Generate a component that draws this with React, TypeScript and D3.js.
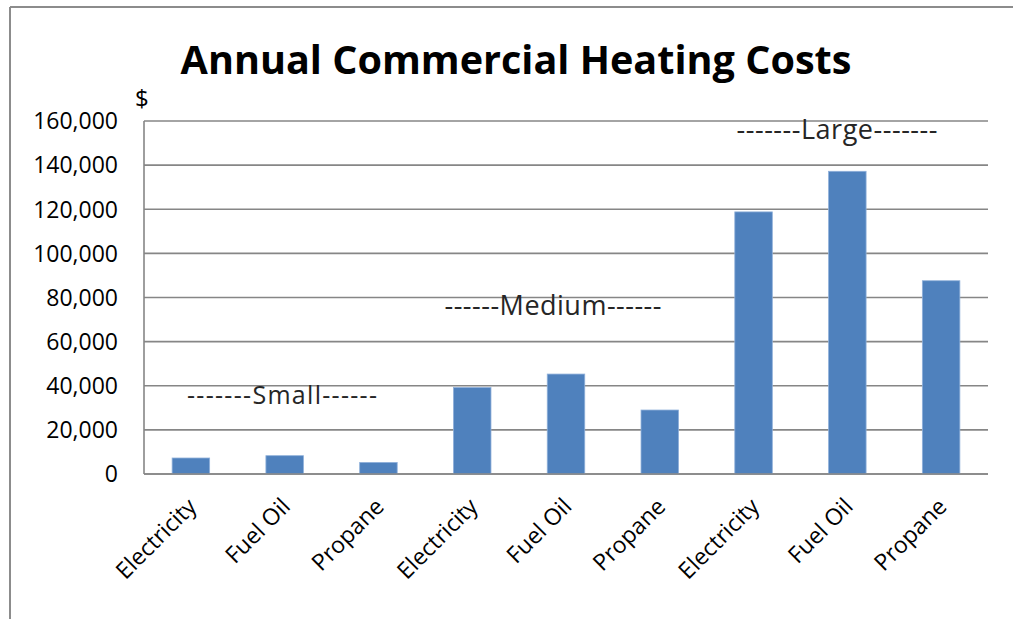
import React from "react";
import * as d3 from "d3";

const categories = ["Electricity", "Fuel Oil", "Propane", "Electricity", "Fuel Oil", "Propane", "Electricity", "Fuel Oil", "Propane"];
const costs = [7250, 8300, 5250, 39200, 45300, 29000, 118800, 137200, 87600];
const yTicks = [0, 20000, 40000, 60000, 80000, 100000, 120000, 140000, 160000];
const groupLabels = ["-------Small------", "------Medium------", "-------Large-------"];
const groupLabelAt = [
  { x: 282, y: 404, size: 25, len: 190 },
  { x: 553, y: 315, size: 27, len: 217 },
  { x: 837, y: 139, size: 27, len: 201 },
];
const title = "Annual Commercial Heating Costs";
const unitLabel = "$";

const W = 1013;
const H = 619;
const plot = { left: 144, right: 988, top: 121, bottom: 474 };
const FONT = "'Open Sans', 'Noto Sans', sans-serif";

export default function App() {
  const x = d3
    .scaleBand<number>()
    .domain(d3.range(categories.length))
    .range([plot.left, plot.right])
    .paddingInner(0.6)
    .paddingOuter(0.3);
  const y = d3.scaleLinear().domain([0, 160000]).range([plot.bottom, plot.top]);
  const fmt = d3.format(",");

  return (
    <svg width={W} height={H} style={{ position: "absolute", left: 0, top: 0, background: "#fff" }} fontFamily={FONT}>
      <rect x={0} y={0} width={W} height={H} fill="#fff" />
      {/* frame */}
      <line x1={10} y1={7} x2={W} y2={7} stroke="#8c8c8c" strokeWidth={2} />
      <line x1={10} y1={7} x2={10} y2={H} stroke="#8c8c8c" strokeWidth={2} />

      <text x={516} y={74} textAnchor="middle" fontSize={39.6} fontWeight="bold" fill="#000">
        {title}
      </text>

      {/* gridlines */}
      {yTicks.map((t) => (
        <line key={t} x1={plot.left} x2={plot.right} y1={y(t)} y2={y(t)} stroke="#868686" strokeWidth={1.6} />
      ))}
      <line x1={plot.left} x2={plot.left} y1={plot.top} y2={plot.bottom} stroke="#868686" strokeWidth={1.6} />

      {/* y tick labels */}
      {yTicks.map((t) => (
        <text key={"l" + t} x={118} y={y(t)} dy="0.36em" textAnchor="end" fontSize={23} fill="#000">
          {fmt(t)}
        </text>
      ))}
      <text x={135} y={107} fontSize={24} fill="#000">{unitLabel}</text>

      {/* bars */}
      {costs.map((v, i) => (
        <rect
          key={i}
          x={x(i)!}
          y={y(v)}
          width={x.bandwidth()}
          height={y(0) - y(v)}
          fill="#4F81BD"
          stroke="#8FB0DA"
          strokeWidth={0.8}
        />
      ))}
      <line x1={plot.left} x2={plot.right} y1={y(0)} y2={y(0)} stroke="#868686" strokeWidth={1.6} />

      {/* category labels */}
      {categories.map((c, i) => {
        const cx = x(i)! + x.bandwidth() / 2;
        return (
          <text
            key={"c" + i}
            transform={`translate(${cx + 7},${508}) rotate(-45)`}
            textAnchor="end"
            fontSize={23}
            fill="#000"
          >
            {c}
          </text>
        );
      })}

      {/* group annotations */}
      {groupLabels.map((g, i) => (
        <text
          key={g}
          x={groupLabelAt[i].x}
          y={groupLabelAt[i].y}
          textAnchor="middle"
          fontSize={groupLabelAt[i].size}
          textLength={groupLabelAt[i].len}
          lengthAdjust="spacing"
          fill="#262626"
        >
          {g}
        </text>
      ))}
    </svg>
  );
}
